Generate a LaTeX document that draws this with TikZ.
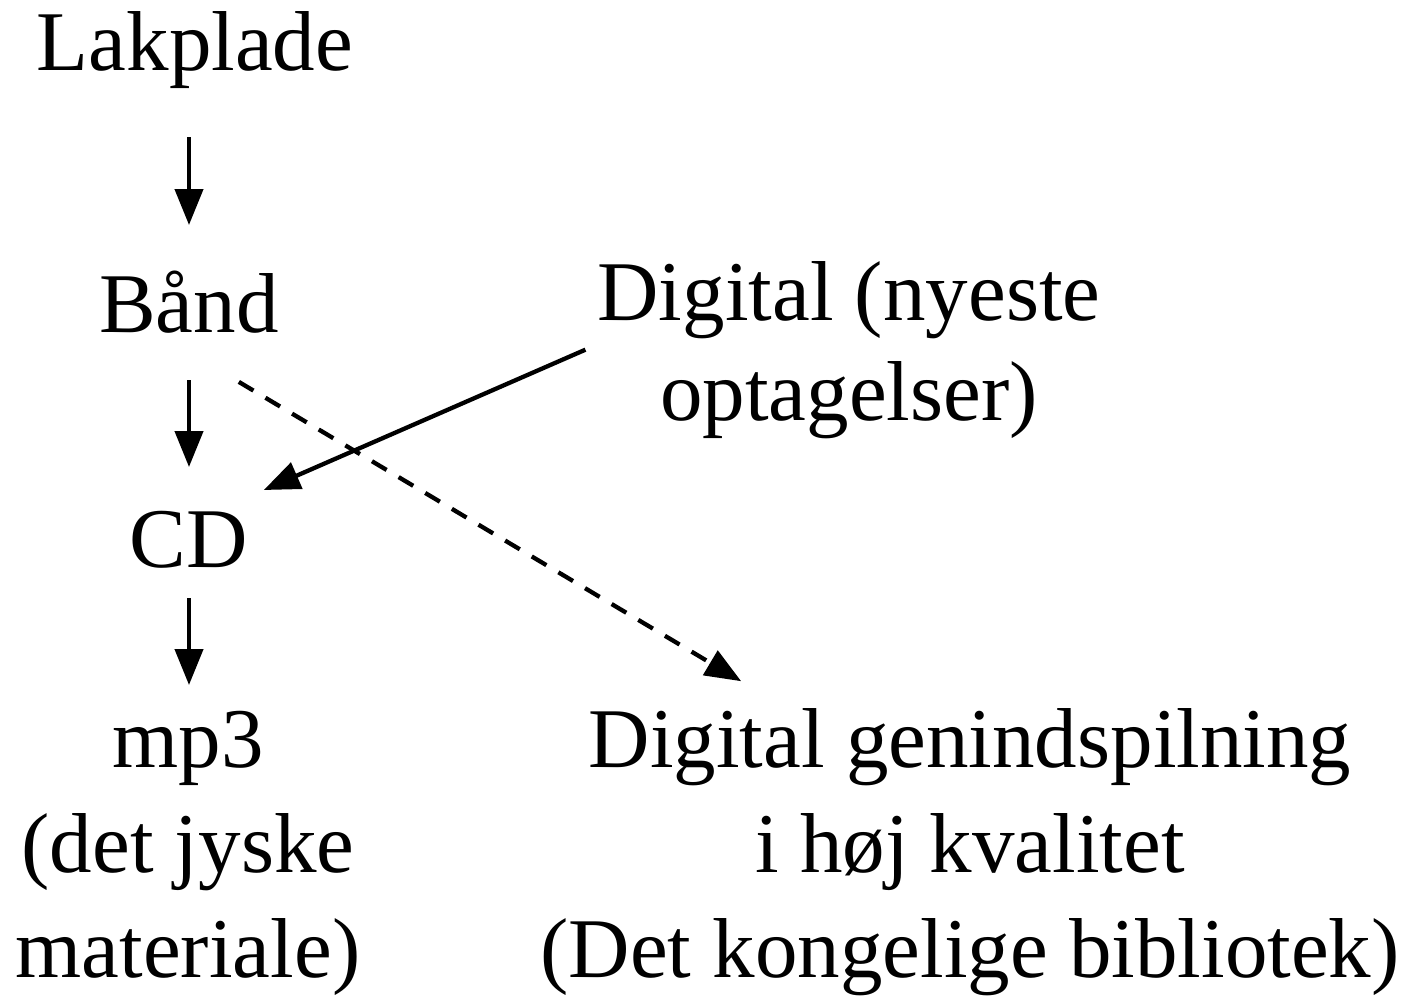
\documentclass[tikz,border=0pt]{standalone}
\usepackage{fontspec}
\setmainfont{Liberation Serif}
\usetikzlibrary{arrows.meta,calc}
\tikzset{
  lbl/.style={inner sep=0pt, anchor=base, align=center,
    font=\fontsize{85pt}{105pt}\selectfont},
  one/.style={lbl, text height=60pt, text depth=20pt},
  arr/.style={line width=4.3pt, -{Triangle[length=36pt,width=28pt]}},
  dsh/.style={arr, dash pattern=on 17pt off 14pt}
}
\begin{document}
\begin{tikzpicture}[x=1pt,y=-1pt]
\useasboundingbox (0,0) rectangle (1405,997);
% left column: the chain of formats (multi-line nodes sit on their last baseline)
\node[one] (lak)  at (195,70)  {Lakplade};
\node[one] (band) at (189,332) {Bånd};
\node[one, text height=70pt] (cd) at (189,567) {CD};
\node[lbl] (mp3)  at (188,977) {mp3\\(det jyske\\materiale)};
% right column
\node[lbl, inner xsep=12pt] (dig) at (849,420) {Digital (nyeste\\[-5pt]optagelser)};
\node[lbl] (gen) at (970,977) {Digital genindspilning\\i høj kvalitet\\(Det kongelige bibliotek)};
% vertical arrows
\draw[arr, shorten <=67pt, shorten >=107pt] (band.base |- lak.base) -- (band.base);
\draw[arr, shorten <=48pt, shorten >=100pt] (band.base) -- (cd.base);
\draw[arr, shorten <=31pt, shorten >=292pt] (cd.base) -- (cd.base |- mp3.base);
% diagonals
\draw[arr, shorten >=17pt] (dig.west) -- (cd.north east);
\draw[dsh, shorten <=58pt, shorten >=52pt] (band.south) -- (gen.142.7);
\end{tikzpicture}
\end{document}
